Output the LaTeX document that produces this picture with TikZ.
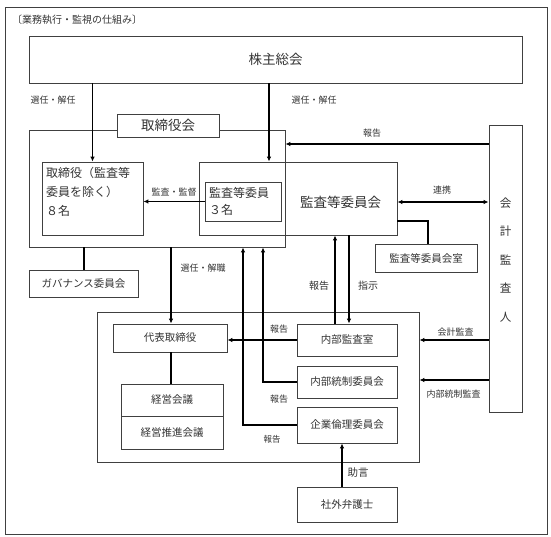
\documentclass[tikz,border=0pt]{standalone}
\usepackage{fontspec}
\setmainfont{Noto Sans CJK JP}
\usetikzlibrary{arrows.meta}
\begin{document}
\begin{tikzpicture}[x=1pt,y=-1pt,
  bx/.style={draw=black!75,line width=0.8pt,rectangle,inner sep=0pt,text=black!80},
  arr/.style={line width=1.3pt,-{Latex[length=5pt,width=4.5pt]}},
  darr/.style={line width=1.3pt,{Latex[length=5pt,width=4.5pt]}-{Latex[length=5pt,width=4.5pt]}},
  ln/.style={line width=1.3pt},
  lbl/.style={font=\fontsize{9}{11}\selectfont,text=black!80,inner sep=0pt},
  big/.style={font=\fontsize{13.5}{16}\selectfont},
  mid/.style={font=\fontsize{10.5}{13}\selectfont}
]
\useasboundingbox (0,0) rectangle (551,537);
\draw[draw=black!75,line width=0.8pt] (5,7) rectangle (547,534);
\node[lbl,anchor=west,font=\fontsize{10}{12}\selectfont] (title) at (12,20) {〔業務執行・監視の仕組み〕};

% boxes
\node[bx,big,minimum width=493pt,minimum height=47pt] (sh) at (275.5,59.5) {株主総会};
\node[bx,minimum width=256pt,minimum height=117pt] (board) at (157,188.5) {};
\node[bx,big,fill=white,minimum width=102pt,minimum height=23pt] (boardlbl) at (168,125.5) {取締役会};
\node[bx,minimum width=101pt,minimum height=73pt] (tori) at (92.5,198.5) {};
\node[anchor=west,align=left,text=black!80,inner sep=0pt,font=\fontsize{12}{19}\selectfont] (toritxt) at (46,192) {取締役（監査等\\委員を除く）\\８名};
\node[bx,minimum width=198pt,minimum height=73pt] (acb) at (298,198.5) {};
\node[big,text=black!80,inner sep=0pt] (acbtxt) at (340.5,202) {監査等委員会};
\node[bx,minimum width=76pt,minimum height=39pt] (acbin) at (243,201.5) {};
\node[anchor=west,align=left,text=black!80,inner sep=0pt,font=\fontsize{12}{17}\selectfont] (acbintxt) at (209,201.5) {監査等委員\\３名};
\node[bx,mid,minimum width=102pt,minimum height=28pt] (acbroom) at (426,258) {監査等委員会室};
\node[bx,mid,minimum width=109pt,minimum height=27pt] (gov) at (83.5,283.5) {ガバナンス委員会};
\node[bx,minimum width=33pt,minimum height=287pt] (auditor) at (505.5,268.5) {};
\node[align=center,text=black!80,inner sep=0pt,font=\fontsize{11.5}{28.5}\selectfont] (audtxt) at (505.5,260) {会\\計\\監\\査\\人};
\node[bx,minimum width=322pt,minimum height=150pt] (exec) at (258,387) {};
\node[bx,mid,minimum width=114pt,minimum height=28pt] (rep) at (170,338) {代表取締役};
\node[bx,mid,minimum width=102pt,minimum height=32pt] (mtg1) at (172,400) {経営会議};
\node[bx,mid,minimum width=102pt,minimum height=33pt] (mtg2) at (172,432.5) {経営推進会議};
\node[bx,mid,minimum width=100pt,minimum height=32pt] (ia) at (347,340) {内部監査室};
\node[bx,mid,minimum width=100pt,minimum height=32pt] (ic) at (347,382) {内部統制委員会};
\node[bx,mid,minimum width=100pt,minimum height=36pt] (ce) at (347,425) {企業倫理委員会};
\node[bx,mid,minimum width=100pt,minimum height=35pt] (law) at (347,504.5) {社外弁護士};

% connectors
\draw[arr] (sh.south -| tori.north) -- (tori.north);
\draw[arr] (sh.south -| 269,0) -- (acb.north -| 269,0);
\draw[arr] (acbin.west) -- (tori.east |- acbin.west);
\draw[arr] (auditor.west |- 0,144) -- (board.east |- 0,144);
\draw[darr] (acb.east |- 0,202) -- (auditor.west |- 0,202);
\draw[ln] (acb.east |- 0,221) -| (acbroom.north -| 428,0);
\draw[ln] (board.south -| 84,0) -- (gov.north -| 84,0);
\draw[arr] (board.south -| 171,0) -- (rep.north -| 171,0);
\draw[arr] (ia.north -| 335,0) -- (acb.south -| 335,0);
\draw[arr] (acb.south -| 349,0) -- (ia.north -| 349,0);
\draw[arr] (ia.west) -- (rep.east |- ia.west);
\draw[arr] (ic.west) -| (board.south -| 263,0);
\draw[arr] (ce.west) -| (board.south -| 243,0);
\draw[ln] (rep.south -| 171,0) -- (mtg1.north -| 171,0);
\draw[arr] (auditor.west |- 0,340) -- (exec.east |- 0,340);
\draw[arr] (auditor.west |- 0,380) -- (exec.east |- 0,380);
\draw[arr] (law.north -| 342,0) -- (ce.south -| 342,0);

% labels
\node[lbl] (l1) at (53,100) {選任・解任};
\node[lbl] (l2) at (314,100) {選任・解任};
\node[lbl] (l3) at (372,133) {報告};
\node[lbl] (l4) at (174,192) {監査・監督};
\node[lbl] (l5) at (442,190) {連携};
\node[lbl] (l6) at (203,268) {選任・解職};
\node[lbl,font=\fontsize{10}{12}\selectfont] (l7) at (319,286) {報告};
\node[lbl,font=\fontsize{10}{12}\selectfont] (l8) at (368,286) {指示};
\node[lbl] (l9) at (279,329) {報告};
\node[lbl] (l10) at (279,399) {報告};
\node[lbl,font=\fontsize{8.5}{10}\selectfont] (l11) at (272,439) {報告};
\node[lbl] (l12) at (455.5,332) {会計監査};
\node[lbl] (l13) at (453.5,394) {内部統制監査};
\node[lbl,font=\fontsize{10.5}{12}\selectfont] (l14) at (358,473) {助言};
\end{tikzpicture}
\end{document}
